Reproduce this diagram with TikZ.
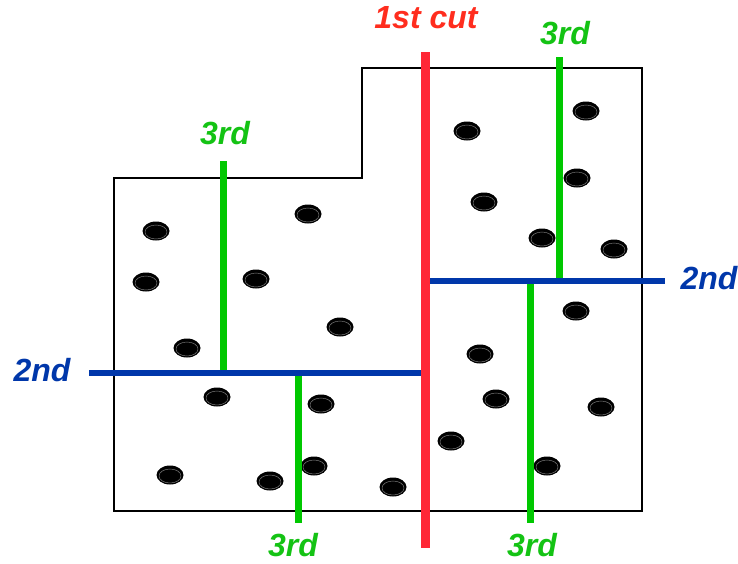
\documentclass[tikz,border=0pt]{standalone}
\usepackage{fontspec}
\setmainfont{Liberation Sans}
\usetikzlibrary{shapes.geometric}
\definecolor{cutred}{RGB}{255,40,55}
\definecolor{txtred}{RGB}{255,45,30}
\definecolor{cutblue}{RGB}{0,55,170}
\definecolor{cutgreen}{RGB}{0,200,0}
\definecolor{txtgreen}{RGB}{20,195,20}
\tikzset{
  dot/.style={ellipse, fill=black, inner sep=0pt, minimum width=27pt, minimum height=19pt,
    path picture={\draw[black!50, line width=0.45pt] ([yshift=-1pt]path picture bounding box.center) ellipse (11pt and 7pt);}},
  lbl/.style={font=\fontsize{32}{36}\selectfont\bfseries\itshape, inner sep=0pt},
  first/.style={cutred, line width=9pt},
  second/.style={cutblue, line width=6pt},
  third/.style={cutgreen, line width=7pt},
  outline/.style={black, line width=2.8pt}
}
\begin{document}
\begin{tikzpicture}[x=1pt,y=-1pt]
\useasboundingbox[fill=white] (0,0) rectangle (738,563);
% outline
\draw[outline] (114,178) -- (362,178) -- (362,68) -- (642,68) -- (642,511) -- (114,511) -- cycle;
% dots
\foreach \n/\x/\y in {1/156/231, 2/308/214, 3/146/282, 4/256/279, 5/340/327, 6/187/348,
  7/217/397, 8/321/404, 9/170/475, 10/270/481, 11/314/466, 12/393/487,
  13/467/131, 14/586/111, 15/577/178, 16/484/202, 17/542/238, 18/614/249,
  19/576/311, 20/480/354, 21/496/399, 22/601/407, 23/451/441, 24/547/466}
  \node[dot] (d\n) at (\x,\y) {};
% coordinates of cuts
\coordinate (r1) at (425,52);  \coordinate (r2) at (425,548);
\coordinate (bl1) at (89,373); \coordinate (bl2) at (421,373);
\coordinate (br1) at (429,281); \coordinate (br2) at (665,281);
\coordinate (g1a) at (223,161); \coordinate (g1b) at (223,370);
\coordinate (g2a) at (298,376); \coordinate (g2b) at (298,523);
\coordinate (g3a) at (559,57);  \coordinate (g3b) at (559,278);
\coordinate (g4a) at (530,284); \coordinate (g4b) at (530,523);
% third cuts
\draw[third] (g1a) -- (g1b);
\draw[third] (g2a) -- (g2b);
\draw[third] (g3a) -- (g3b);
\draw[third] (g4a) -- (g4b);
% second cuts
\draw[second] (bl1) -- (bl2);
\draw[second] (br1) -- (br2);
% first cut
\draw[first] (r1) -- (r2);
% labels
\node[lbl, txtred] (l1) at (426,18) {1st cut};
\node[lbl, txtgreen] (l3a) at (565,33) {3rd};
\node[lbl, txtgreen] (l3b) at (225,133) {3rd};
\node[lbl, txtgreen] (l3c) at (293,545) {3rd};
\node[lbl, txtgreen] (l3d) at (532,545) {3rd};
\node[lbl, cutblue] (l2a) at (42,370) {2nd};
\node[lbl, cutblue] (l2b) at (709,278) {2nd};
\end{tikzpicture}
\end{document}
